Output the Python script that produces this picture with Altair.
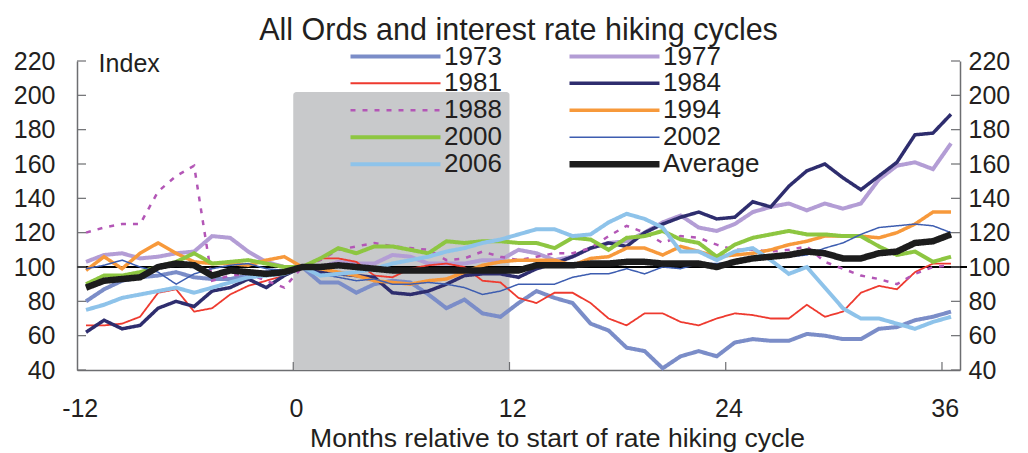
import altair as alt
import pandas as pd

# ---------------- data ----------------
months = list(range(-12, 37))
series_names = ["1973", "1977", "1981", "1984", "1988", "1994", "2000", "2002", "2006", "Average"]

s1973 = [80, 87, 92, 94, 95, 97, 94, 93, 93, 95, 97, 98, 100,
         91, 91, 85, 90, 92, 91, 84, 76, 81, 73, 71, 79,
         86, 82, 79, 67, 63, 53, 51, 41, 48, 51, 48, 56,
         58, 57, 57, 61, 60, 58, 58, 64, 65, 69, 71, 74]
s1977 = [103, 107, 108, 105, 106, 108, 109, 118, 117, 109, 103, 100, 100,
         100, 103, 102, 102, 107, 106, 102, 102, 102, 104, 104, 110,
         108, 104, 106, 111, 114, 115, 120, 126, 130, 123, 121, 125,
         132, 135, 137, 133, 137, 134, 137, 151, 159, 161, 157, 172]
s1981 = [66, 66, 67, 71, 85, 87, 74, 76, 84, 89, 92, 95, 100,
         105, 105, 103, 95, 94, 99, 101, 102, 100, 92, 91, 82,
         79, 85, 85, 79, 70, 66, 73, 73, 68, 66, 70, 73,
         72, 70, 70, 78, 71, 74, 85, 89, 87, 97, 102, 102]
s1984 = [62, 69, 64, 66, 76, 80, 77, 86, 88, 93, 88, 95, 100,
         97, 96, 95, 94, 85, 84, 86, 90, 95, 96, 96, 94,
         99, 102, 106, 111, 114, 112, 120, 125, 129, 132, 128, 129,
         138, 135, 147, 156, 160, 152, 145, 153, 161, 177, 178, 189]
s1988 = [120, 123, 125, 125, 144, 153, 159, 92, 95, 96, 92, 88, 100,
         104, 110, 112, 114, 112, 111, 110, 104, 105, 109, 106, 104,
         106, 108, 108, 111, 118, 124, 120, 114, 118, 117, 113, 110,
         110, 109, 110, 112, 103, 99, 95, 93, 90, 96, 100, 101]
s1994 = [98, 106, 99, 108, 114, 108, 103, 102, 102, 101, 104, 106, 100,
         99, 97, 95, 92, 91, 90, 92, 93, 97, 101, 103, 104,
         104, 104, 101, 105, 106, 111, 111, 107, 112, 109, 106, 107,
         108, 110, 113, 115, 118, 118, 118, 117, 120, 125, 132, 132]
s2000 = [90, 95, 95, 97, 100, 103, 108, 102, 103, 104, 102, 100, 100,
         105, 111, 108, 112, 112, 110, 108, 115, 114, 115, 115, 114,
         114, 111, 117, 116, 110, 117, 118, 121, 116, 114, 106, 113,
         117, 119, 121, 119, 119, 118, 118, 112, 107, 109, 103, 106]
s2002 = [99, 101, 104, 100, 97, 90, 96, 99, 101, 102, 99, 98, 100,
         96, 94, 92, 93, 90, 90, 91, 90, 88, 84, 86, 90,
         90, 90, 94, 96, 96, 99, 96, 100, 99, 102, 102, 103,
         104, 106, 106, 107, 111, 114, 119, 123, 124, 125, 124, 120]
s2006 = [75, 78, 82, 84, 86, 88, 85, 88, 91, 94, 95, 96, 100,
         95, 96, 97, 99, 102, 104, 106, 109, 111, 114, 116, 119,
         122, 122, 118, 119, 126, 131, 128, 123, 109, 109, 104, 109,
         111, 104, 96, 100, 88, 76, 70, 70, 67, 64, 68, 71]
average = [88, 92, 93, 94, 100, 102, 101, 95, 98, 97, 96, 97, 100,
           100, 101, 100, 99, 98, 98, 98, 98, 98, 98, 98, 98,
           101, 101, 101, 102, 102, 103, 103, 102, 102, 102, 100, 103,
           105, 106, 107, 109, 108, 105, 105, 108, 109, 114, 115, 119]

all_series = [s1973, s1977, s1981, s1984, s1988, s1994, s2000, s2002, s2006, average]

y_ticks = [40, 60, 80, 100, 120, 140, 160, 180, 200, 220]
x_label_values = [-12, 0, 12, 24, 36]
x_tick_marks = [-0.5, 11.5, 23.5, 35.5]
hike_start, hike_end = -0.5, 11.5
shade_top = 202
reference_level = 100

# ---------------- styles ----------------
colors = ["#7B8DC8", "#B39DD5", "#EE3A2F", "#2E2D6E", "#B356B6",
          "#F7993B", "#8DC641", "#3D5DB0", "#8EC3EA", "#1C1C1C"]
widths = [4, 4, 1.8, 3.5, 2.5, 3.5, 4, 1.5, 4, 6.5]
dashes = [[1, 0], [1, 0], [1, 0], [1, 0], [5, 7], [1, 0], [1, 0], [1, 0], [1, 0], [1, 0]]

FONT = "Liberation Sans"
TXT = "#231F20"
AX = "#6D6E71"
W, H = 883, 309

rows = []
for name, vals in zip(series_names, all_series):
    for m, v in zip(months, vals):
        rows.append({"month": m, "value": v, "series": name})
df = pd.DataFrame(rows)

xscale = alt.Scale(domain=[-12.5, 36.5], nice=False, zero=False)
yscale = alt.Scale(domain=[40, 220], nice=False, zero=False)

x_axis = alt.Axis(values=[v - 0.35 for v in x_label_values], labelExpr="round(datum.value)",
                  ticks=False, labelPadding=26, labelFontSize=25, labelFont=FONT, labelColor=TXT,
                  labelFlush=False, labelOverlap=False,
                  domainColor=AX, domainWidth=1.5, grid=False,
                  title="Months relative to start of rate hiking cycle",
                  titleFont=FONT, titleFontSize=26.5, titleFontWeight="normal", titleColor=TXT,
                  titlePadding=4, titleX=480, titleAlign="center", titleAnchor="start")
y_axis_left = alt.Axis(orient="left", values=y_ticks, ticks=False, labelPadding=22, labelFontSize=25,
                       labelFont=FONT, labelColor=TXT, labelOverlap=False, labelFlush=False,
                       domainColor=AX, domainWidth=1.5, grid=False, title=None)

shade = alt.Chart(pd.DataFrame({"x": [hike_start], "x2": [hike_end], "y": [40], "y2": [shade_top]})).mark_rect(
    color="#C8C9CB", cornerRadiusTopLeft=3, cornerRadiusTopRight=3
).encode(
    x=alt.X("x:Q", scale=xscale, axis=x_axis),
    x2="x2:Q",
    y=alt.Y("y:Q", scale=yscale, axis=y_axis_left),
    y2="y2:Q",
)

ref_line = alt.Chart(pd.DataFrame({"y": [reference_level]})).mark_rule(color="#000000", strokeWidth=2).encode(
    y=alt.Y("y:Q", scale=yscale, axis=y_axis_left), x=alt.value(0), x2=alt.value(W + 7)
)

leg = alt.Legend(title=None)
lines = alt.Chart(df).mark_line(strokeJoin="miter", strokeCap="butt").encode(
    x=alt.X("month:Q", scale=xscale, axis=x_axis),
    y=alt.Y("value:Q", scale=yscale, axis=y_axis_left),
    color=alt.Color("series:N", scale=alt.Scale(domain=series_names, range=colors), legend=leg),
    strokeWidth=alt.StrokeWidth("series:N",
                                scale=alt.Scale(type="ordinal", domain=series_names, range=widths),
                                legend=leg),
    strokeDash=alt.StrokeDash("series:N", scale=alt.Scale(domain=series_names, range=dashes), legend=leg),
)

ytick_df = pd.DataFrame({"y": y_ticks})
left_ticks = alt.Chart(ytick_df).mark_rule(color=AX, strokeWidth=1.2).encode(
    y=alt.Y("y:Q", scale=yscale, axis=y_axis_left), x=alt.value(0), x2=alt.value(9))
xticks = alt.Chart(pd.DataFrame({"x": x_tick_marks})).mark_rule(color=AX, strokeWidth=1.2).encode(
    x=alt.X("x:Q", scale=xscale, axis=x_axis), y=alt.value(H), y2=alt.value(H - 8))

index_label = alt.Chart(pd.DataFrame({"x": [-11.3], "y": [218], "t": ["Index"]})).mark_text(
    align="left", baseline="middle", fontSize=25, font=FONT, color=TXT
).encode(x=alt.X("x:Q", scale=xscale, axis=x_axis), y=alt.Y("y:Q", scale=yscale, axis=y_axis_left),
         text="t:N")

main = alt.layer(shade, ref_line, lines, left_ticks, xticks, index_label)

right_axis = alt.Chart(ytick_df).mark_rule(color=AX, strokeWidth=1.2).encode(
    y=alt.Y("y:Q", scale=yscale,
            axis=alt.Axis(orient="right", values=y_ticks, ticks=False, labelPadding=8, labelFontSize=25,
                          labelFont=FONT, labelColor=TXT, labelOverlap=False, labelFlush=False,
                          domainColor=AX, domainWidth=1.5, grid=False, title=None)),
    x=alt.value(W - 9), x2=alt.value(W))

chart = alt.layer(main, right_axis).resolve_scale(y="independent").properties(
    width=W, height=H,
    title=alt.TitleParams("All Ords and interest rate hiking cycles", font=FONT, fontSize=30.5,
                          fontWeight="normal", color=TXT, anchor="middle", frame="group", offset=3, dy=6),
    autosize=alt.AutoSizeParams(type="none"),
    padding={"left": 69, "top": 53, "right": 60, "bottom": 85},
).configure_view(stroke=None).configure_axis(labelOverlap=False, labelFlush=False).configure_legend(
    orient="none", legendX=270, legendY=-18, columns=2, direction="horizontal",
    symbolType="stroke", symbolSize=8100,
    labelFont=FONT, labelFontSize=26, labelColor=TXT, clipHeight=26.5, rowPadding=0,
    columnPadding=64, labelOffset=0, padding=0, symbolOffset=0,
)

chart.save("out.html", embed_options={"renderer": "svg", "actions": False})
